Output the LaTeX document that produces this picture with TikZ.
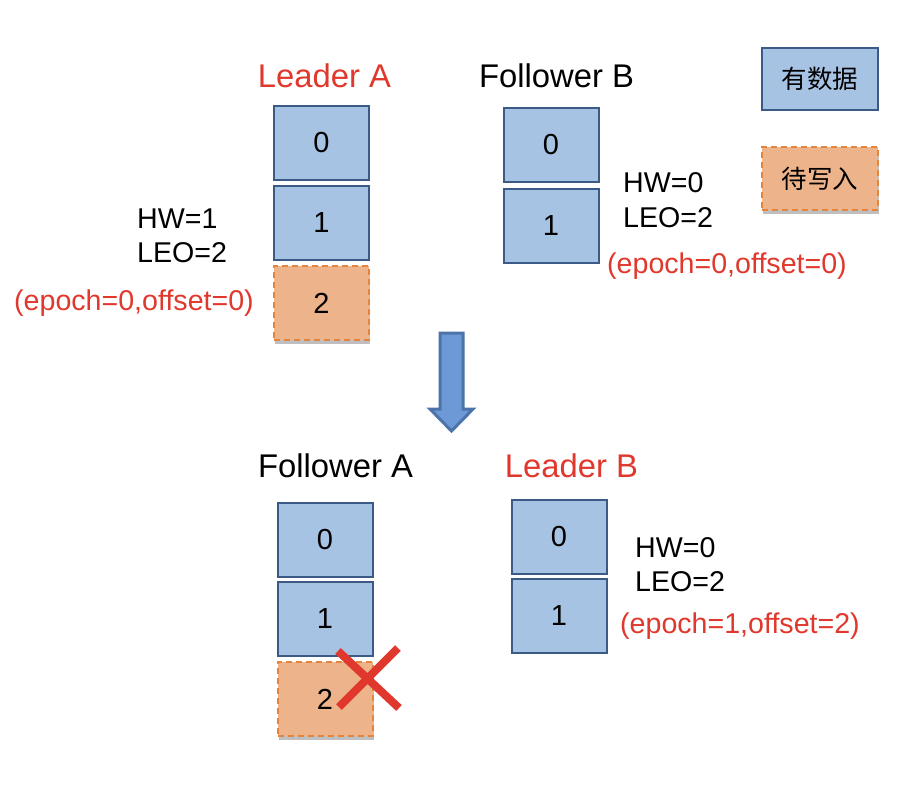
\documentclass[tikz,border=0pt]{standalone}
\usepackage{fontspec}
\setmainfont{Liberation Sans}
\newfontfamily\cjk{Noto Sans CJK SC}
\usetikzlibrary{shadows}
\definecolor{bfill}{HTML}{A7C3E4}
\definecolor{bdraw}{HTML}{3B5B86}
\definecolor{ofill}{HTML}{EDB38A}
\definecolor{odraw}{HTML}{E5843D}
\definecolor{redt}{HTML}{E0382C}
\definecolor{afill}{HTML}{6D9AD6}
\definecolor{adraw}{HTML}{4C74A8}
\tikzset{
  datbox/.style={draw=bdraw, fill=bfill, line width=2pt, minimum width=95pt, minimum height=74pt, inner sep=0pt, font=\fontsize{29}{34}\selectfont},
  penbox/.style={draw=odraw, fill=ofill, line width=2pt, dash pattern=on 6pt off 4pt, minimum width=95pt, minimum height=74pt, inner sep=0pt, font=\fontsize{29}{34}\selectfont, drop shadow={shadow xshift=1pt, shadow yshift=-4pt, opacity=0.25, fill=black}},
  title/.style={font=\fontsize{32.8}{38}\selectfont, anchor=base, inner sep=0pt},
  info/.style={font=\fontsize{28.6}{34}\selectfont, anchor=base west, inner sep=0pt},
  redinfo/.style={info, text=redt},
}
\begin{document}
\begin{tikzpicture}[x=1pt,y=-1pt]
\useasboundingbox (0,0) rectangle (908,788);
% top left: Leader A
\node[title, text=redt] (tLA) at (324.5,87) {Leader A};
\node[datbox] (a0) at (321.5,143) {0};
\node[datbox] (a1) at (321.5,223) {1};
\node[penbox] (a2) at (321.5,303) {2};
\node[info] (aHW) at (137,228) {HW=1};
\node[info] (aLEO) at (137,262) {LEO=2};
\node[redinfo] (aEp) at (14,310) {(epoch=0,offset=0)};
% top right: Follower B
\node[title] (tFB) at (556.5,87) {Follower B};
\node[datbox] (b0) at (551,145) {0};
\node[datbox] (b1) at (551,226) {1};
\node[info] (bHW) at (623,192) {HW=0};
\node[info] (bLEO) at (623,227) {LEO=2};
\node[redinfo] (bEp) at (607,273) {(epoch=0,offset=0)};
% legend
\node[datbox, minimum width=116pt, minimum height=62pt, font=\cjk\fontsize{25.5}{30}\selectfont] (lg1) at (820,79) {有数据};
\node[penbox, minimum width=116pt, minimum height=63pt, font=\cjk\fontsize{25.5}{30}\selectfont] (lg2) at (820,178.5) {待写入};
% arrow
\draw[fill=afill, draw=adraw, line width=3pt, line join=miter]
  (440,333) -- (463,333) -- (463,409) -- (473,409) -- (451.5,431) -- (430,409) -- (440,409) -- cycle;
% bottom left: Follower A
\node[title] (tFA) at (335.5,477) {Follower A};
\node[datbox] (c0) at (325,539.5) {0};
\node[datbox] (c1) at (325,619) {1};
\node[penbox] (c2) at (325,699) {2};
% cross
\draw[redt, line width=8pt] (338,651) -- (399,708) (398,648) -- (339,707);
% bottom right: Leader B
\node[title, text=redt] (tLB) at (571.5,477) {Leader B};
\node[datbox] (d0) at (559,537) {0};
\node[datbox] (d1) at (559,616) {1};
\node[info] (dHW) at (635,557) {HW=0};
\node[info] (dLEO) at (635,591) {LEO=2};
\node[redinfo] (dEp) at (620,633) {(epoch=1,offset=2)};
\end{tikzpicture}
\end{document}
